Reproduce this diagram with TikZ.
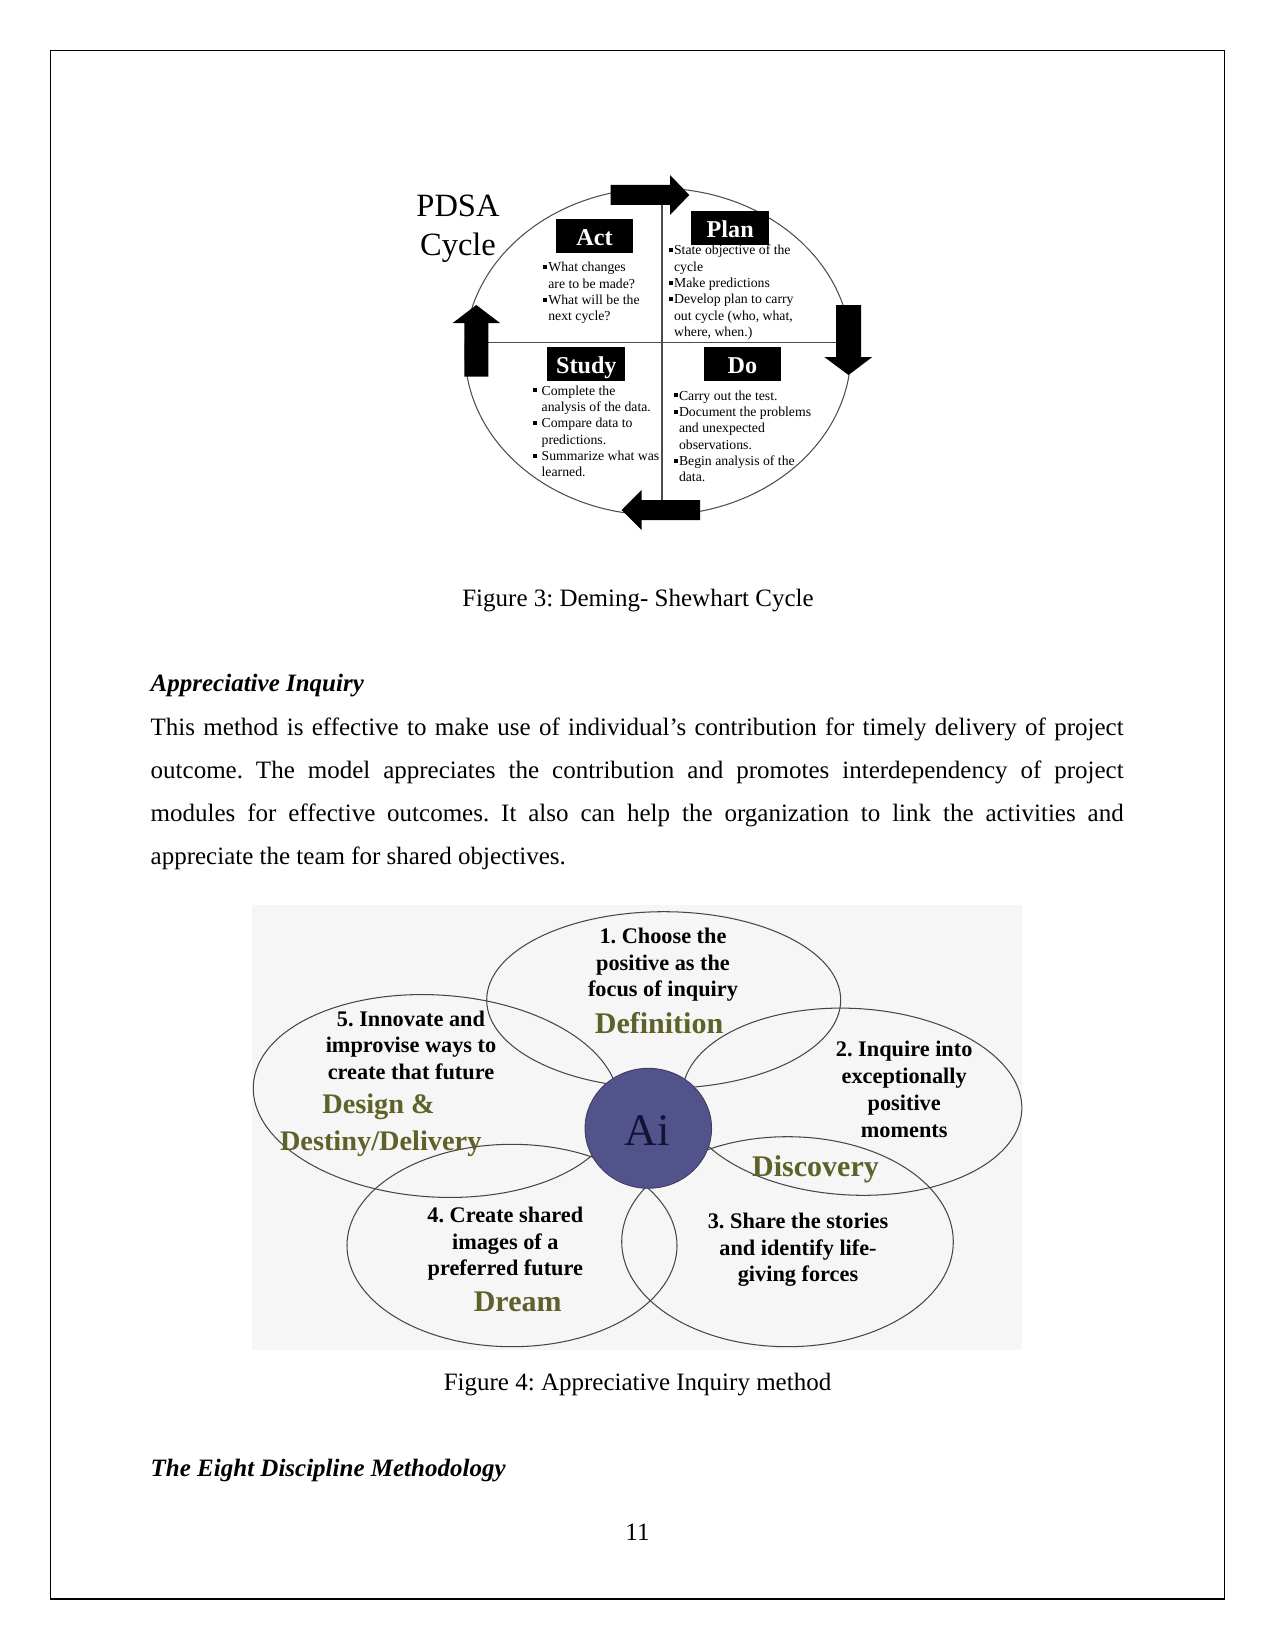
\documentclass[tikz,border=0pt]{standalone}
\usepackage{fontspec}
\setmainfont{Liberation Serif}
\frenchspacing
\definecolor{olv}{RGB}{94,98,42}
\definecolor{aifill}{RGB}{83,83,140}
\definecolor{aitext}{RGB}{18,18,52}
\definecolor{figbg}{RGB}{246,246,246}
\definecolor{eline}{RGB}{70,70,70}
\newcommand{\fsz}[2]{\fontsize{#1}{#2}\selectfont}
\newcommand{\bsq}[1]{\makebox[#1][l]{\rule[1.3pt]{1.9pt}{1.9pt}}}
\newcommand{\ctrbox}[1]{\parbox[t]{240pt}{\centering #1}}
\newcommand{\lftbox}[1]{\parbox[t]{120pt}{\raggedright #1}}
\tikzset{
  txt/.style={inner sep=0pt, outer sep=0pt},
  lab/.style={fill=black, text=white, inner sep=0pt, minimum width=37.4pt, minimum height=16.3pt,
              text height=9.1pt, text depth=0pt, font=\fsz{11.6}{13}\bfseries},
  arr/.style={fill=black, draw=none},
  cyc/.style={draw=black!70, line width=0.5pt},
  ell/.style={draw=eline, line width=0.5pt},
  bul/.style={txt, anchor=base west},
  ctx/.style={txt, anchor=base},
}
\begin{document}
\begin{tikzpicture}[x=0.48pt, y=-0.48pt]
\useasboundingbox (0,0) rectangle (1275,1651);
% page frame
\draw[line width=0.7pt] (50.5,50.3) rectangle (1224.3,1599);

% ---------------- PDSA cycle ----------------
\draw[cyc] (658,351.7) ellipse (193 and 163.5);
\draw[cyc] (467,342.5) -- (849,342.5);
\draw[cyc] (662,188.5) -- (662,515);

\fill[arr] (610.7,185) -- (670,185) -- (670,175) -- (689.3,195) -- (670,215) -- (670,205) -- (610.7,205) -- cycle;
\fill[arr] (836,305) -- (861,305) -- (861,357) -- (872.3,357) -- (848.5,375) -- (824.3,357) -- (836,357) -- cycle;
\fill[arr] (700,500) -- (641.7,500) -- (641.7,490) -- (621.7,510) -- (641.7,530) -- (641.7,520) -- (700,520) -- cycle;
\fill[arr] (464.3,376.7) -- (464.3,323) -- (452.7,323) -- (476.3,305) -- (500,323) -- (488.3,323) -- (488.3,376.7) -- cycle;

\node[ctx] (pdsa) at (458,217) {\ctrbox{\fsz{15.6}{18.7}PDSA\\Cycle}};

\node[lab] (act) at (594.5,236.3) {Act};
\node[lab] (plan) at (730.2,228) {Plan};
\node[lab] (study) at (586.3,364) {Study};
\node[lab] (do) at (742.5,364) {Do};

\node[bul] (actt) at (542.7,271.7) {\lftbox{\fsz{6.6}{7.84}\bsq{2.7pt}What changes\\\hspace*{2.7pt}are to be made?\\\bsq{2.7pt}What will be the\\\hspace*{2.7pt}next cycle?}};
\node[bul] (plant) at (669.3,255) {\lftbox{\fsz{6.6}{7.84}\bsq{2.3pt}State objective of the\\\hspace*{2.3pt}cycle\\\bsq{2.3pt}Make predictions\\\bsq{2.3pt}Develop plan to carry\\\hspace*{2.3pt}out cycle (who, what,\\\hspace*{2.3pt}where, when.)}};
\node[bul] (studyt) at (532.7,395) {\lftbox{\fsz{6.6}{7.84}\bsq{4.3pt}Complete the\\\hspace*{4.3pt}analysis of the data.\\\bsq{4.3pt}Compare data to\\\hspace*{4.3pt}predictions.\\\bsq{4.3pt}Summarize what was\\\hspace*{4.3pt}learned.}};
\node[bul] (dot) at (674,400) {\lftbox{\fsz{6.6}{7.84}\bsq{2.4pt}Carry out the test.\\\bsq{2.4pt}Document the problems\\\hspace*{2.4pt}and unexpected\\\hspace*{2.4pt}observations.\\\bsq{2.4pt}Begin analysis of the\\\hspace*{2.4pt}data.}};

\node[ctx] (cap3) at (638,606.7) {\fsz{12}{14}Figure 3: Deming- Shewhart Cycle};

% ---------------- body text ----------------
\node[bul] (h1) at (150.7,691.7) {\fsz{12}{14}\bfseries\itshape Appreciative Inquiry};
\node[bul] (para) at (150.7,735) {\parbox[t]{467pt}{\fsz{12}{20.64}This method is effective to make use of individual’s contribution for timely delivery of project\linebreak outcome. The model appreciates the contribution and promotes interdependency of project\linebreak modules for effective outcomes. It also can help the organization to link the activities and\linebreak appreciate the team for shared objectives.}};

% ---------------- Appreciative Inquiry figure ----------------
\fill[figbg] (252,905) rectangle (1022,1350);
\draw[ell] (663.7,1000) ellipse (177 and 88.3);
\draw[ell, rotate around={-3:(852,1101.7)}] (852,1101.7) ellipse (170 and 93.3);
\draw[ell] (787.5,1241.7) ellipse (165.8 and 105);
\draw[ell] (512,1245.5) ellipse (165 and 101.2);
\draw[ell, rotate around={-3.5:(436,1096)}] (436,1096) ellipse (183 and 101);
\draw[draw=aifill!70!black, fill=aifill, line width=0.4pt] (648.3,1128.3) ellipse (63.3 and 60);
\node[ctx, text=aitext] (ai) at (647.3,1145) {\fsz{21.7}{24}Ai};

\node[ctx] (t1) at (663,943.3) {\ctrbox{\fsz{10.7}{12.85}\bfseries 1. Choose the\\positive as the\\focus of inquiry}};
\node[ctx, text=olv] (def) at (659,1033.3) {\fsz{14.4}{16}\bfseries Definition};
\node[ctx] (t2) at (904.2,1056.7) {\ctrbox{\fsz{10.7}{12.85}\bfseries 2. Inquire into\\exceptionally\\positive\\moments}};
\node[ctx, text=olv] (disc) at (815.5,1176) {\fsz{14.4}{16}\bfseries Discovery};
\node[ctx] (t3) at (798,1228.3) {\ctrbox{\fsz{10.7}{12.85}\bfseries 3. Share the stories\\and identify life-\\giving forces}};
\node[ctx] (t4) at (505.3,1222.3) {\ctrbox{\fsz{10.7}{12.85}\bfseries 4. Create shared\\images of a\\preferred future}};
\node[ctx, text=olv] (dream) at (517.7,1311.7) {\fsz{14.4}{16}\bfseries Dream};
\node[ctx] (t5) at (411,1026) {\ctrbox{\fsz{10.7}{12.85}\bfseries 5. Innovate and\\improvise ways to\\create that future}};
\node[bul, text=olv] (des1) at (322.3,1113.3) {\fsz{13.6}{15}\bfseries Design \&};
\node[bul, text=olv] (des2) at (280,1150.7) {\fsz{13.6}{15}\bfseries Destiny/Delivery};

\node[ctx] (cap4) at (637.5,1390.7) {\fsz{12}{14}Figure 4: Appreciative Inquiry method};
\node[bul] (h2) at (150.7,1476) {\fsz{12}{14}\bfseries\itshape The Eight Discipline Methodology};
\node[ctx] (pg) at (637.5,1540) {\fsz{12}{14}11};
\end{tikzpicture}
\end{document}
